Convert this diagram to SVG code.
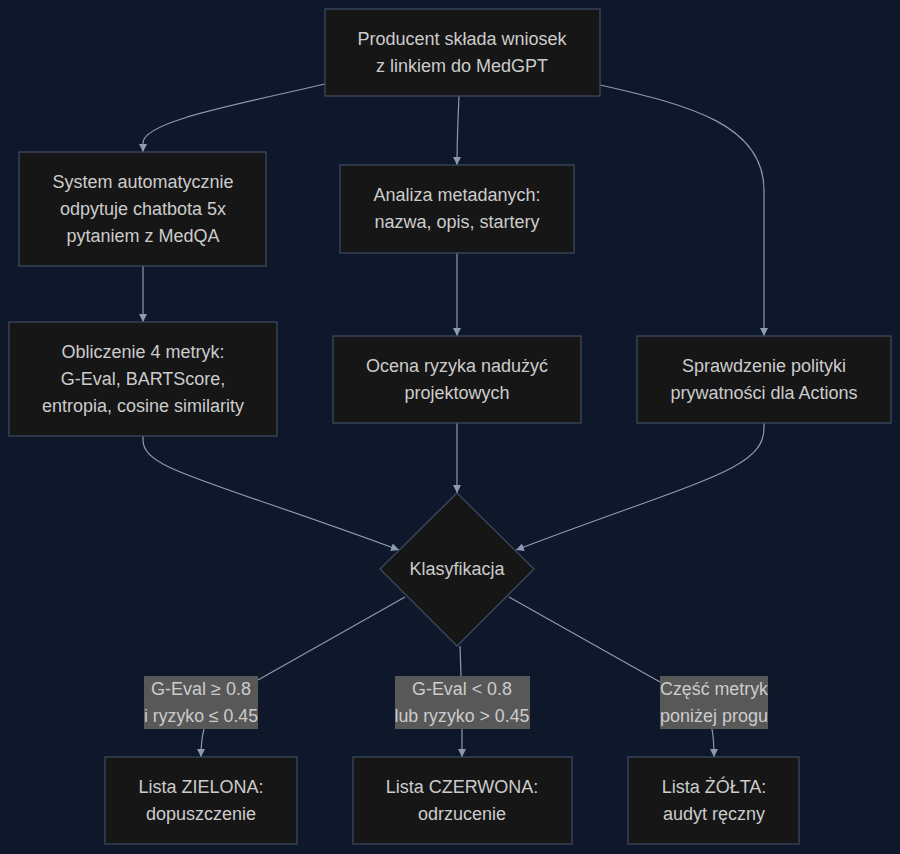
<svg xmlns="http://www.w3.org/2000/svg" width="900" height="854" viewBox="0 0 900 854">
<style>
.bg{fill:#0f172a}
.node rect,.node polygon{fill:#161616;stroke:#3b4a5f;stroke-width:1.3}
.node text,.lbl text{font-family:"Liberation Sans",Arial,sans-serif;font-size:18px;fill:#cccccc;text-anchor:middle}
.lbl rect{fill:#585858}
.edge{fill:none;stroke:#8b9bb3;stroke-width:1.2}
</style>
<defs>
<marker id="arr" viewBox="0 0 10 10" refX="10" refY="5" markerWidth="8" markerHeight="8" markerUnits="userSpaceOnUse" orient="auto">
<path d="M0,0 L10,5 L0,10 z" fill="#8b9bb3"/>
</marker>
</defs>
<rect class="bg" x="0" y="0" width="900" height="854"/>
<g id="connectors">
<path class="edge" marker-end="url(#arr)" d="M325,84 C230,106 143,122 143,143 L143,152"/>
<path class="edge" marker-end="url(#arr)" d="M459,96 C458,120 457,140 457,165"/>
<path class="edge" marker-end="url(#arr)" d="M600,85 C690,105 764,125 764,190 L764,336"/>
<path class="edge" marker-end="url(#arr)" d="M143,266 L143,322"/>
<path class="edge" marker-end="url(#arr)" d="M457,253 L457,336"/>
<path class="edge" marker-end="url(#arr)" d="M143,436 L143,440 C143,470 210,480 399,550"/>
<path class="edge" marker-end="url(#arr)" d="M457,423 L457,493"/>
<path class="edge" marker-end="url(#arr)" d="M764,423 L764,428 C764,470 700,480 516,550"/>
<path class="edge" d="M405,597 L258,680"/>
<path class="edge" marker-end="url(#arr)" d="M204,729 C201,740 201,748 201,757"/>
<path class="edge" d="M460,646 L461,676"/>
<path class="edge" marker-end="url(#arr)" d="M462,729 L462,757"/>
<path class="edge" d="M509,597 L660,682"/>
<path class="edge" marker-end="url(#arr)" d="M712,729 C714,740 714,748 714,757"/>
</g>
<g id="n_producent" class="node">
<rect x="325" y="9" width="275" height="87"/>
<text x="462" y="45">Producent składa wniosek</text>
<text x="462" y="72">z linkiem do MedGPT</text>
</g>
<g id="n_system" class="node">
<rect x="19" y="152" width="247" height="114"/>
<text x="143" y="188">System automatycznie</text>
<text x="143" y="215">odpytuje chatbota 5x</text>
<text x="143" y="242">pytaniem z MedQA</text>
</g>
<g id="n_analiza" class="node">
<rect x="340" y="165" width="234" height="88"/>
<text x="457" y="201">Analiza metadanych:</text>
<text x="457" y="228">nazwa, opis, startery</text>
</g>
<g id="n_obliczenie" class="node">
<rect x="9" y="322" width="268" height="114"/>
<text x="143" y="358">Obliczenie 4 metryk:</text>
<text x="143" y="385">G-Eval, BARTScore,</text>
<text x="143" y="412">entropia, cosine similarity</text>
</g>
<g id="n_ocena" class="node">
<rect x="333" y="336" width="248" height="87"/>
<text x="457" y="372">Ocena ryzyka nadużyć</text>
<text x="457" y="399">projektowych</text>
</g>
<g id="n_sprawdzenie" class="node">
<rect x="637" y="336" width="254" height="87"/>
<text x="764" y="372">Sprawdzenie polityki</text>
<text x="764" y="399">prywatności dla Actions</text>
</g>
<g id="n_klasyfikacja" class="node">
<polygon points="457,493 534,569 457,646 380,569"/>
<text x="457" y="575">Klasyfikacja</text>
</g>
<g id="l_zielona" class="lbl">
<rect x="144" y="676" width="114" height="53"/>
<text x="201" y="695" textLength="100" lengthAdjust="spacingAndGlyphs">G-Eval ≥ 0.8</text>
<text x="201" y="722" textLength="114" lengthAdjust="spacingAndGlyphs">i ryzyko ≤ 0.45</text>
</g>
<g id="l_czerwona" class="lbl">
<rect x="395" y="676" width="135" height="53"/>
<text x="462" y="695" textLength="100" lengthAdjust="spacingAndGlyphs">G-Eval &lt; 0.8</text>
<text x="462" y="722" textLength="135" lengthAdjust="spacingAndGlyphs">lub ryzyko &gt; 0.45</text>
</g>
<g id="l_zolta" class="lbl">
<rect x="660" y="676" width="108" height="53"/>
<text x="714" y="695" textLength="108" lengthAdjust="spacingAndGlyphs">Część metryk</text>
<text x="714" y="722" textLength="108" lengthAdjust="spacingAndGlyphs">poniżej progu</text>
</g>
<g id="n_zielona" class="node">
<rect x="105" y="757" width="192" height="87"/>
<text x="201" y="793">Lista ZIELONA:</text>
<text x="201" y="820">dopuszczenie</text>
</g>
<g id="n_czerwona" class="node">
<rect x="353" y="757" width="219" height="87"/>
<text x="462" y="793">Lista CZERWONA:</text>
<text x="462" y="820">odrzucenie</text>
</g>
<g id="n_zolta" class="node">
<rect x="628" y="757" width="171" height="87"/>
<text x="714" y="793">Lista ŻÓŁTA:</text>
<text x="714" y="820">audyt ręczny</text>
</g>
</svg>
